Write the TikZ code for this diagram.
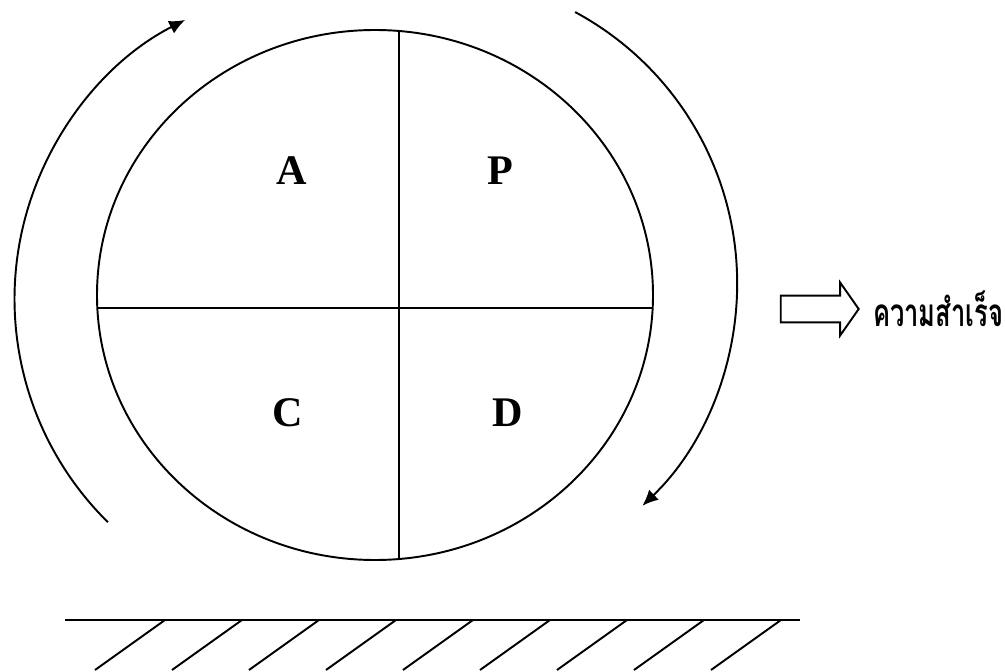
\documentclass[tikz,border=0pt]{standalone}
\usepackage{fontspec}
\usepackage{graphicx}
\setmainfont{Liberation Serif}
\newfontfamily\thaifont[Script=Thai]{Loma}
\usetikzlibrary{arrows.meta,positioning,shapes.arrows}

\begin{document}
\begin{tikzpicture}[x=0.02cm, y=-0.02cm,
  ln/.style={line width=1.1pt, black},
  cyc/.style={line width=1.1pt, -{Latex[length=3.2mm, width=2.8mm]}},
  lbl/.style={font=\bfseries\fontsize{24}{28}\selectfont, inner sep=0pt},
  goal/.style={draw, line width=1.1pt, single arrow, single arrow tip angle=110,
    single arrow head extend=0.26cm, minimum height=1.56cm, inner xsep=0pt, inner ysep=0.25cm}
]
\useasboundingbox (0,0) rectangle (1005,672);
% wheel with its four parts
\coordinate (ctr) at (375,295);
\draw[ln] (ctr) ellipse [x radius=278, y radius=265];
\coordinate (top) at (399,31);
\coordinate (bot) at (399,559);
\coordinate (lft) at (97.3,308);
\coordinate (rgt) at (652.7,308);
\draw[ln] (top) -- (bot);
\draw[ln] (lft) -- (rgt);
\node[lbl] (a) at (292,171) {A};
\node[lbl] (p) at (500,171) {P};
\node[lbl] (c) at (288,413) {C};
\node[lbl] (d) at (508,413) {D};
% turning arrows
\coordinate (lc) at (328,299);
\coordinate (rc) at (429,283.4);
\draw[cyc] ([shift={(134.6:313.5)}]lc) arc [start angle=134.6, end angle=242.9, radius=313.5];
\draw[cyc] ([shift={(-61.7:308.2)}]rc) arc [start angle=-61.7, end angle=46.2, radius=308.2];
% result
\node[goal] (go) at (815,309) {};
\node[right=0.26cm of go, inner sep=0pt, font=\thaifont\bfseries\fontsize{22}{26}\selectfont] (succ) {\scalebox{0.66}[1]{ความสำเร็จ}};
% ground
\draw[ln] (65,620) coordinate (g0) -- (800,620) coordinate (g1);
\foreach \x in {165,242,...,781}
  \draw[ln] (\x,620) -- ++(-70,50);
\end{tikzpicture}
\end{document}
